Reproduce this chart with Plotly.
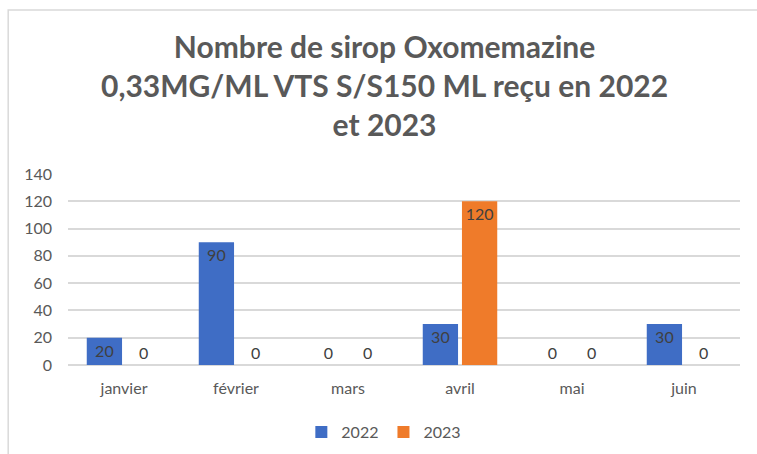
import plotly.graph_objects as go

# data
months = ["janvier", "février", "mars", "avril", "mai", "juin"]
recu_2022 = [20, 90, 0, 30, 0, 30]
recu_2023 = [0, 0, 0, 120, 0, 0]
y_ticks = [0, 20, 40, 60, 80, 100, 120, 140]

title_text = ("Nombre de sirop Oxomemazine<br>"
              "0,33MG/ML VTS S/S150 ML reçu en 2022<br>"
              "et 2023")


def text_pos(values):
    return ["inside" if v > 0 else "outside" for v in values]


label_font = dict(color="#404040", size=16)

fig = go.Figure()
fig.add_trace(go.Bar(
    x=months, y=recu_2022, name="2022",
    marker=dict(color="#3f6dc5", line=dict(width=0)),
    text=recu_2022, textposition=text_pos(recu_2022),
    insidetextanchor="end",
    textfont=label_font, outsidetextfont=label_font, insidetextfont=label_font,
    cliponaxis=False,
))
fig.add_trace(go.Bar(
    x=months, y=recu_2023, name="2023",
    marker=dict(color="#ef7b2a", line=dict(width=0)),
    text=recu_2023, textposition=text_pos(recu_2023),
    insidetextanchor="end",
    textfont=label_font, outsidetextfont=label_font, insidetextfont=label_font,
    cliponaxis=False,
))

fig.update_layout(
    width=757, height=454,
    paper_bgcolor="white", plot_bgcolor="white",
    font=dict(family="Lato, Open Sans, sans-serif", color="#595959", size=16),
    title=dict(text=title_text, x=0.508, xanchor="center",
               y=0.872, yanchor="top",
               font=dict(size=30, color="#595959", family="Lato, sans-serif",
                         weight="bold")),
    margin=dict(l=68, r=17, t=174, b=89),
    barmode="group", bargap=0.30, bargroupgap=0.1,
    showlegend=True,
    legend=dict(orientation="h", x=0.47, xanchor="center",
                yref="container", y=0.048, yanchor="middle",
                font=dict(size=16, color="#595959"),
                itemwidth=30, traceorder="normal"),
    uniformtext=dict(minsize=10, mode="show"),
)
fig.update_xaxes(showgrid=False, showline=False, ticks="",
                 ticklabelstandoff=12,
                 tickfont=dict(size=16, color="#595959"))
fig.update_yaxes(range=[0, 140], tickvals=y_ticks, showgrid=True,
                 gridcolor="#d9d9d9", gridwidth=1.5, zeroline=True,
                 zerolinecolor="#d9d9d9", zerolinewidth=1.5,
                 showline=False, ticks="", ticklabelstandoff=15,
                 tickfont=dict(size=16, color="#595959"))

# light frame round the chart
fig.add_shape(type="rect", xref="paper", yref="paper",
              x0=-0.089, x1=1.1, y0=-0.6, y1=1.859,
              line=dict(color="#d9d9d9", width=1.5), layer="below")

fig.write_html("out.html", config={"displayModeBar": False},
               post_script="document.body.style.margin='0';")
